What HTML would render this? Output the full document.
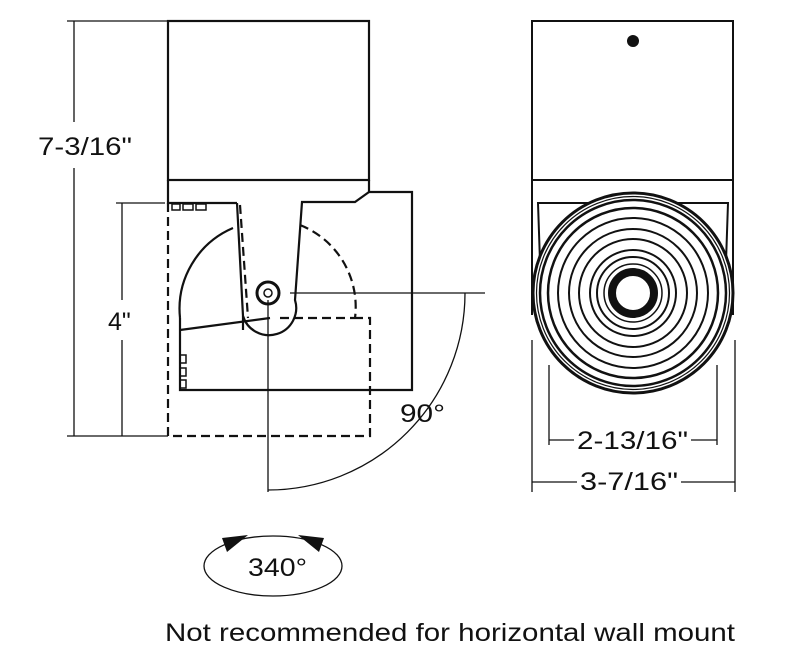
<!DOCTYPE html>
<html><head><style>html,body{margin:0;padding:0;background:#fff;}svg{display:block}</style></head>
<body>
<svg width="800" height="664" viewBox="0 0 800 664" xmlns="http://www.w3.org/2000/svg" font-family="Liberation Sans, sans-serif">
<g stroke="#111" fill="none" stroke-width="1.3">
<line x1="67" y1="21" x2="167" y2="21"/>
<line x1="74" y1="21" x2="74" y2="122"/>
<line x1="74" y1="168" x2="74" y2="436"/>
<line x1="67" y1="436" x2="168" y2="436"/>
<line x1="116" y1="203" x2="165" y2="203"/>
<line x1="122" y1="203" x2="122" y2="300"/>
<line x1="122" y1="340" x2="122" y2="436"/>
<line x1="290" y1="293" x2="485" y2="293"/>
<line x1="268" y1="300" x2="268" y2="492"/>
<path d="M465 293 A197 197 0 0 1 268 490"/>
</g>
<g stroke="#111" fill="none" stroke-width="2.2">
<rect x="168" y="21" width="201" height="159"/>
<path d="M168 180 V203 H237"/>
<path d="M369 180 V192 H412 V390 H180 V318"/>
<path d="M369 192 L355 202 H302 L295 300 A27 27 0 0 1 243 316 L237 203"/>
<path d="M180 330 L270 318"/>
<path d="M180 318 A88 88 0 0 1 233 228"/>
<line x1="243" y1="316" x2="243" y2="330"/>
</g>
<g stroke="#111" fill="none" stroke-width="2.2" stroke-dasharray="9,5">
<path d="M168 203 V436 H370 V318 H356"/>
<path d="M300 225 A88 88 0 0 1 355 318"/>
<path d="M280 318 H356"/>
<path d="M240 205 L248 318"/>
</g>
<g stroke="#111" fill="none" stroke-width="1.5">
<rect x="172" y="204" width="8" height="6"/><rect x="183" y="204" width="10" height="6"/><rect x="196" y="204" width="10" height="6"/>
<rect x="180" y="355" width="6" height="8"/><rect x="180" y="368" width="6" height="8"/><rect x="180" y="380" width="6" height="8"/>
</g>
<circle cx="268" cy="293" r="11" fill="none" stroke="#111" stroke-width="3"/>
<circle cx="268" cy="293" r="4" fill="none" stroke="#111" stroke-width="1.5"/>
<g stroke="#111" fill="none" stroke-width="2">
<rect x="532" y="21" width="201" height="159"/>
<line x1="532" y1="180" x2="532" y2="315"/><line x1="733" y1="180" x2="733" y2="315"/>
<path d="M540 262 L538 203 H728 L726 262"/>
</g>
<circle cx="633" cy="41" r="6" fill="#111"/>
<circle cx="633" cy="293" r="100" fill="#fff" stroke="#111" stroke-width="3"/>
<g fill="none" stroke="#111">
<circle cx="633" cy="293" r="96.5" stroke-width="1.2"/>
<circle cx="633" cy="293" r="93" stroke-width="2.5"/>
<circle cx="633" cy="293" r="85" stroke-width="2.5"/>
<circle cx="633" cy="293" r="75" stroke-width="2"/>
<circle cx="633" cy="293" r="64" stroke-width="2"/>
<circle cx="633" cy="293" r="54" stroke-width="2"/>
<circle cx="633" cy="293" r="43" stroke-width="2"/>
<circle cx="633" cy="293" r="36" stroke-width="2"/>
<circle cx="633" cy="293" r="29" stroke-width="1.5"/>
<circle cx="633" cy="293" r="21" stroke-width="8"/>
</g>
<g stroke="#111" fill="none" stroke-width="1.3">
<line x1="532" y1="340" x2="532" y2="492"/><line x1="735" y1="340" x2="735" y2="492"/>
<line x1="549" y1="365" x2="549" y2="445"/><line x1="717" y1="365" x2="717" y2="445"/>
<line x1="549" y1="440" x2="574" y2="440"/><line x1="691" y1="440" x2="717" y2="440"/>
<line x1="532" y1="482" x2="577" y2="482"/><line x1="681" y1="482" x2="735" y2="482"/>
<ellipse cx="273" cy="566" rx="69" ry="30"/>
</g>
<polygon points="222,538 248,535 227,552" fill="#111"/>
<polygon points="324,538 298,535 319,552" fill="#111"/>
<g fill="#111" font-size="25">
<text x="38" y="155" textLength="94" lengthAdjust="spacingAndGlyphs">7-3/16"</text>
<text x="108" y="330">4"</text>
<text x="400" y="422" textLength="45" lengthAdjust="spacingAndGlyphs">90°</text>
<text x="577" y="449" textLength="111" lengthAdjust="spacingAndGlyphs">2-13/16"</text>
<text x="580" y="490" textLength="98" lengthAdjust="spacingAndGlyphs">3-7/16"</text>
<text x="248" y="576" textLength="59" lengthAdjust="spacingAndGlyphs">340°</text>
<text x="165" y="641" textLength="570" lengthAdjust="spacingAndGlyphs">Not recommended for horizontal wall mount</text>
</g>
</svg>
</body></html>
